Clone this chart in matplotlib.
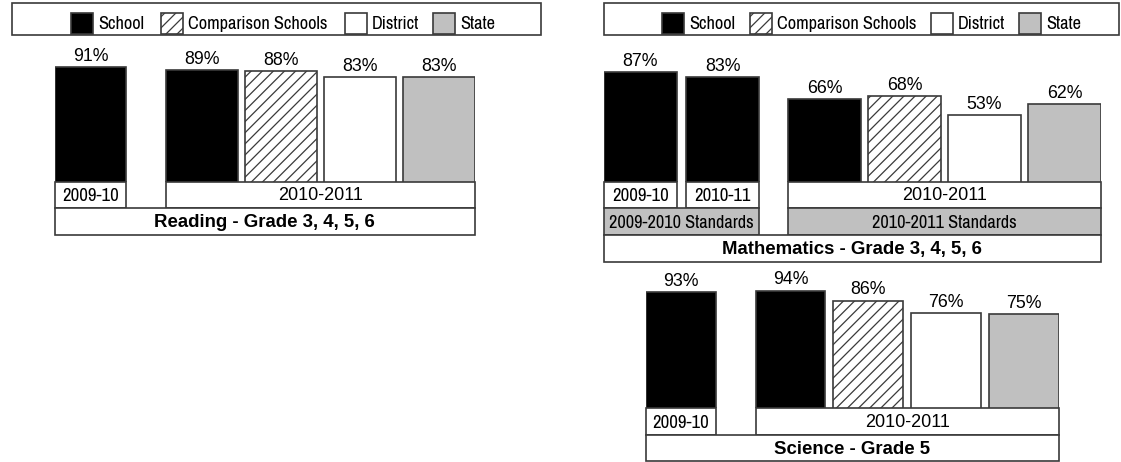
import matplotlib
matplotlib.use("Agg")
import matplotlib.pyplot as plt
import matplotlib.transforms as mtransforms
from matplotlib.patches import Rectangle

W, H = 1121, 462

# data
series = ["School", "Comparison Schools", "District", "State"]

reading_groups = ["2009-10", "2010-2011"]
reading_values = [91, 89, 88, 83, 83]
reading_series = [0, 0, 1, 2, 3]

math_groups = ["2009-10", "2010-11", "2010-2011"]
math_standards = ["2009-2010 Standards", "2010-2011 Standards"]
math_values = [87, 83, 66, 68, 53, 62]
math_series = [0, 0, 0, 1, 2, 3]

science_groups = ["2009-10", "2010-2011"]
science_values = [93, 94, 86, 76, 75]
science_series = [0, 0, 1, 2, 3]

titles = ["Reading - Grade 3, 4, 5, 6", "Mathematics - Grade 3, 4, 5, 6", "Science - Grade 5"]

# styles
FILLS = ["black", "white", "white", "#c0c0c0"]
HATCH = [None, "///", None, None]
EDGE = "#3a3a3a"
NARROW = ["Archivo Narrow", "Liberation Sans"]
REG = ["Liberation Sans", "DejaVu Sans"]

plt.rcParams["hatch.linewidth"] = 0.9

fig = plt.figure(figsize=(W / 100, H / 100), dpi=100)
ov = fig.add_axes([0, 0, 1, 1])
ov.set_xlim(0, W)
ov.set_ylim(H, 0)
ov.axis("off")


def px_axes(x0, x1, y_bottom, height):
	ax = fig.add_axes([x0 / W, 1 - y_bottom / H, (x1 - x0) / W, height / H])
	ax.axis("off")
	return ax


def box(ax, i0, i1, pos, width, y0, y1, text, fill="white", font=REG, size=13, weight="normal"):
	tr = mtransforms.blended_transform_factory(ax.transData, ov.transData)
	left = pos[i0] - width / 2
	right = pos[i1] + width / 2
	ov.add_patch(Rectangle((left, y0), right - left, y1 - y0, transform=tr,
						   facecolor=fill, edgecolor=EDGE, lw=1.2, clip_on=False))
	ov.text((left + right) / 2, (y0 + y1) / 2 + 1, text, transform=tr, ha="center", va="center",
			family=font, size=size, weight=weight, color="black")


def bars(ax, pos, width, values, kinds):
	for p, v, k in zip(pos, values, kinds):
		ax.bar(p, v, width=width, color=FILLS[k], edgecolor=EDGE, hatch=HATCH[k], lw=1.2)
		ax.annotate("%d%%" % v, (p, v), xytext=(0, 4.5), textcoords="offset points",
					ha="center", va="baseline", family=REG, size=12.8)
	ax.set_xlim(pos[0] - width / 2, pos[-1] + width / 2)
	ax.set_ylim(0, 100)


def legend(x0, x1, swatch_x):
	ov.add_patch(Rectangle((x0, 3), x1 - x0, 32, facecolor="white", edgecolor=EDGE, lw=1.2))
	for k, name in enumerate(series):
		sx = swatch_x[k]
		ov.add_patch(Rectangle((sx, 13), 22, 21, facecolor=FILLS[k], edgecolor=EDGE,
							   hatch=HATCH[k], lw=1.2))
		ov.text(sx + 27, 24, name, ha="left", va="center", family=NARROW, size=13.2)


# Reading
pos_r = [0, 1.41, 2.41, 3.41, 4.41]
ax_r = px_axes(55, 474.5, 182, 126)
bars(ax_r, pos_r, 0.905, reading_values, reading_series)
box(ax_r, 0, 0, pos_r, 0.905, 182, 208, reading_groups[0], font=NARROW, size=13.5)
box(ax_r, 1, 4, pos_r, 0.905, 182, 208, reading_groups[1])
box(ax_r, 0, 4, pos_r, 0.905, 208, 235, titles[0], size=13.4, weight="bold")
legend(12, 541, [71, 161, 345, 433])

# Mathematics
pos_m = [0, 1.03, 2.3, 3.3, 4.3, 5.3]
ax_m = px_axes(604, 1100.8, 182, 126)
bars(ax_m, pos_m, 0.91, math_values, math_series)
box(ax_m, 0, 0, pos_m, 0.91, 182, 208, math_groups[0], font=NARROW, size=13.5)
box(ax_m, 1, 1, pos_m, 0.91, 182, 208, math_groups[1], font=NARROW, size=13.5)
box(ax_m, 2, 5, pos_m, 0.91, 182, 208, math_groups[2])
box(ax_m, 0, 1, pos_m, 0.91, 208, 235, math_standards[0], fill="#c0c0c0", font=NARROW, size=13.2)
box(ax_m, 2, 5, pos_m, 0.91, 208, 235, math_standards[1], fill="#c0c0c0", font=NARROW, size=13.2)
box(ax_m, 0, 5, pos_m, 0.91, 235, 262, titles[1], size=13.4, weight="bold")
legend(604, 1119, [662, 750, 931, 1019])

# Science
pos_s = [0, 1.41, 2.41, 3.41, 4.41]
ax_s = px_axes(646, 1058.6, 408, 125)
bars(ax_s, pos_s, 0.9, science_values, science_series)
box(ax_s, 0, 0, pos_s, 0.9, 408, 435, science_groups[0], font=NARROW, size=13.5)
box(ax_s, 1, 4, pos_s, 0.9, 408, 435, science_groups[1])
box(ax_s, 0, 4, pos_s, 0.9, 435, 461, titles[2], size=13.4, weight="bold")

fig.savefig("out.png", dpi=100)
